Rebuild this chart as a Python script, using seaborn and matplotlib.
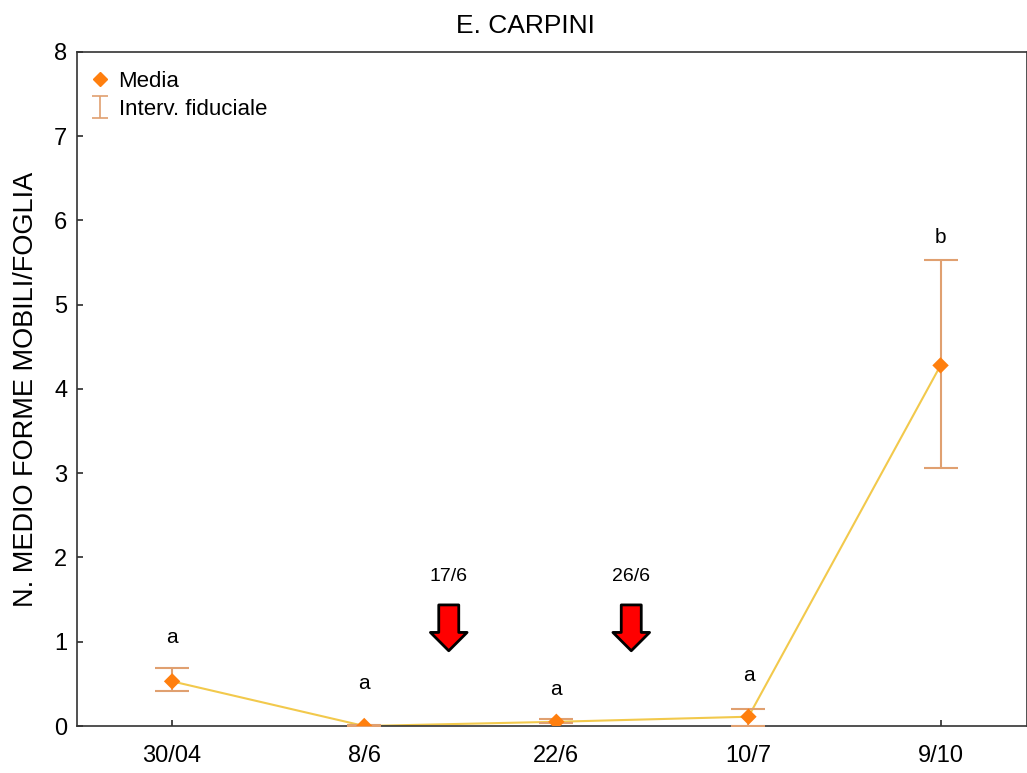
import numpy as np
import pandas as pd
import matplotlib
matplotlib.use("Agg")
import matplotlib.pyplot as plt
from matplotlib.lines import Line2D
import seaborn as sns

# Sampling dates and per-leaf means of mobile forms
dates = ["30/04", "8/6", "22/6", "10/7", "9/10"]
media = [0.53, 0.0, 0.05, 0.11, 4.28]
ci_low = [0.41, 0.0, 0.03, 0.0, 3.06]
ci_high = [0.69, 0.01, 0.08, 0.20, 5.53]
letters = ["a", "a", "a", "a", "b"]
letter_y = [1.05, 0.5, 0.43, 0.6, 5.8]

# Treatment dates marked with arrows (position between sampling dates)
treat_labels = ["17/6", "26/6"]
treat_pos = [1.44, 2.39]

sns.set_theme(style="white")
plt.rcParams["font.family"] = ["Liberation Sans", "DejaVu Sans"]
plt.rcParams["text.color"] = "black"
plt.rcParams["axes.labelcolor"] = "black"
plt.rcParams["xtick.color"] = "black"
plt.rcParams["ytick.color"] = "black"

df = pd.DataFrame({"pos": np.arange(len(dates)), "media": media})

fig = plt.figure(figsize=(10.27, 7.73), dpi=100)
ax = fig.add_axes([0.075, 0.0608, 0.925, 0.872])

line_col = "#F2C94C"
marker_col = "#FF7F0E"
err_col = "#E0A070"

sns.lineplot(data=df, x="pos", y="media", ax=ax, color=line_col, lw=1.5, zorder=2)
yerr = np.array([np.array(media) - np.array(ci_low), np.array(ci_high) - np.array(media)])
ax.errorbar(df["pos"], df["media"], yerr=yerr, fmt="none", ecolor=err_col,
            elinewidth=1.5, capsize=12, capthick=1.5, zorder=3)
sns.scatterplot(data=df, x="pos", y="media", ax=ax, marker="D", s=70,
                color=marker_col, edgecolor="none", zorder=4)

for p, (l, yy) in enumerate(zip(letters, letter_y)):
    ax.text(p, yy, l, ha="center", va="center", fontsize=15, color="black")

for lab, xp in zip(treat_labels, treat_pos):
    ax.text(xp, 1.77, lab, ha="center", va="center", fontsize=14, color="black")
    ax.annotate("", xy=(xp, 0.86), xytext=(xp, 1.47),
                arrowprops=dict(arrowstyle="simple,head_width=2.2,head_length=1.1,tail_width=1.2",
                                fc="#FF0000", ec="black", lw=2.0))

ax.set_xlim(-0.495, 4.45)
ax.set_ylim(0, 8)
ax.set_xticks(range(len(dates)))
ax.set_xticklabels(dates, fontsize=17)
ax.set_yticks(range(0, 9))
ax.tick_params(axis="y", labelsize=17, length=4, direction="in", left=True, pad=7, color="#333333")
ax.tick_params(axis="x", length=4, direction="in", bottom=True, pad=14, color="#333333")
ax.set_xlabel("")
ax.set_ylabel("N. MEDIO FORME MOBILI/FOGLIA", fontsize=19.5, labelpad=11)
ax.set_title("E. CARPINI", fontsize=19, pad=14, x=0.4716)
for s in ax.spines.values():
    s.set_color("#333333")
    s.set_linewidth(1.2)

# Legend entries: the mean marker and a capped interval glyph
media_handle = Line2D([], [], marker="D", color=marker_col, ls="none", markersize=7)
ci_handle = ax.errorbar([-10], [1], yerr=[[0.5], [0.5]], fmt="none", ecolor=err_col,
                        capsize=6, elinewidth=1.2, capthick=1.2)
ax.legend([media_handle, ci_handle], ["Media", "Interv. fiduciale"], loc="upper left",
          bbox_to_anchor=(0.004, 0.985), borderaxespad=0,
          frameon=False, fontsize=16, handlelength=0.9, handletextpad=0.4,
          labelspacing=0.3)

fig.savefig("out.png", dpi=100)
